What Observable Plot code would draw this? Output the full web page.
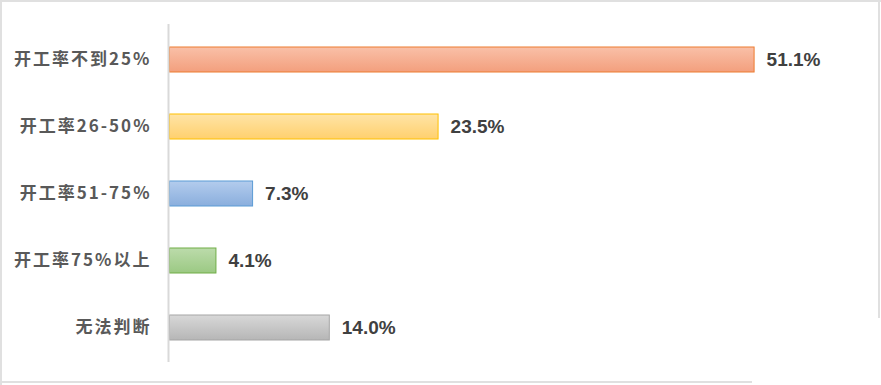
<!DOCTYPE html>
<html>
<head>
<meta charset="utf-8">
<script src="https://cdn.jsdelivr.net/npm/d3@7"></script>
<script src="https://cdn.jsdelivr.net/npm/@observablehq/plot@0.6"></script>
<style>
  html, body { margin: 0; padding: 0; background: #fff; }
  #wrap { position: relative; width: 881px; height: 385px; overflow: hidden; }
  .edge { position: absolute; background: #e0e0e0; }
  g[aria-label="y-axis tick label"] text { letter-spacing: 2px; }
</style>
</head>
<body>
<div id="wrap">
  <div class="edge" style="left:0;top:0;width:881px;height:2px"></div>
  <div class="edge" style="left:0;top:0;width:2px;height:385px"></div>
  <div class="edge" style="left:878px;top:0;width:2px;height:318px"></div>
  <div class="edge" style="left:0;top:381px;width:752px;height:2px"></div>
</div>
<script>
// Share of respondents by operating rate
const categories = ["开工率不到25%", "开工率26-50%", "开工率51-75%", "开工率75%以上", "无法判断"];
const values = [51.1, 23.5, 7.3, 4.1, 14.0];
const valueLabels = ["51.1%", "23.5%", "7.3%", "4.1%", "14.0%"];

// Bar fills: light top → deeper bottom, plus an outline colour
const topColors = ["#f9c0a8", "#ffe4a6", "#b3cced", "#bcdbab", "#d8d8d8"];
const bottomColors = ["#f39f7d", "#ffd06e", "#8aaedd", "#9bc983", "#b6b6b6"];
const strokeColors = ["#ed7d31", "#ffc000", "#5b9bd5", "#70ad47", "#a5a5a5"];

const rows = categories.map((c, i) => ({
  category: c,
  value: values[i],
  label: valueLabels[i],
  fill: `url(#barGrad${i})`,
  stroke: strokeColors[i]
}));

const chart = Plot.plot({
  width: 881,
  height: 385,
  marginLeft: 169,
  marginRight: 25,
  marginTop: 24,
  marginBottom: 23,
  style: { background: "transparent", overflow: "visible" },
  x: { domain: [0, 60], axis: null },
  y: { domain: categories, paddingInner: 0.63, paddingOuter: 0.315, label: null },
  color: { type: "identity" },
  marks: [
    Plot.barX(rows, {
      x: "value",
      y: "category",
      fill: "fill",
      stroke: "stroke",
      strokeWidth: 1,
      insetLeft: 0.5
    }),
    Plot.ruleX([0], { stroke: "#d9d9d9", strokeWidth: 2, dx: -1 }),
    Plot.axisY({
      tickSize: 0,
      tickPadding: 18,
      fontSize: 17,
      fontWeight: "bold",
      fontFamily: "'Noto Sans CJK SC', sans-serif",
      fill: "#595959",
      label: null
    }),
    Plot.text(rows, {
      x: "value",
      y: "category",
      text: "label",
      dx: 12,
      textAnchor: "start",
      fontSize: 19,
      fontWeight: "bold",
      fontFamily: "'Liberation Sans', Arial, sans-serif",
      fill: "#404040"
    })
  ]
});

// Vertical gradients referenced by the bar fills
const defs = d3.create("svg:defs");
topColors.forEach((c, i) => {
  const g = defs.append("linearGradient")
    .attr("id", `barGrad${i}`)
    .attr("x1", 0).attr("y1", 0).attr("x2", 0).attr("y2", 1);
  g.append("stop").attr("offset", "0%").attr("stop-color", c);
  g.append("stop").attr("offset", "100%").attr("stop-color", bottomColors[i]);
});
chart.insertBefore(defs.node(), chart.firstChild);

chart.style.position = "absolute";
chart.style.left = "0";
chart.style.top = "0";
document.getElementById("wrap").appendChild(chart);
</script>
</body>
</html>
